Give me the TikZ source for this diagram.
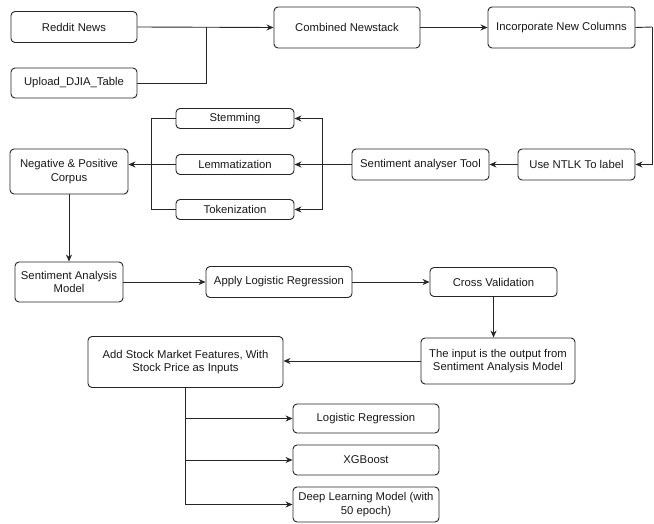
\documentclass[tikz,border=0pt]{standalone}
\usepackage{fontspec}
\setmainfont{Liberation Sans}
\usetikzlibrary{arrows.meta}
\usetikzlibrary{positioning}

\tikzset{
  box/.style={draw=black!85,line width=0.9pt,rounded corners=4pt,fill=white,
    align=center,inner sep=0pt,text=black!90,
    font=\fontsize{11.3}{13.5}\selectfont},
  arr/.style={line width=0.9pt,draw=black!85,-{Stealth[length=7pt,width=6pt]}},
  ln/.style={line width=0.9pt,draw=black!85}
}

\begin{document}
\begin{tikzpicture}[x=1pt,y=-1pt]
\useasboundingbox[fill=white] (0,0) rectangle (654,524);

% top row
\node[box,minimum width=126pt,minimum height=31pt] (reddit) at (74,27) {Reddit News};
\node[box,minimum width=126pt,minimum height=30pt] (upload) at (74,83) {Upload\_DJIA\_Table};
\node[box,minimum width=146pt,minimum height=41pt] (combo) at (347,27.5) {Combined Newstack};
\node[box,minimum width=147pt,minimum height=41pt] (incorp) at (561.5,27.5) {Incorporate New Columns};
\coordinate (jn) at (206,27);
\coordinate (rt) at (652,27);

% labelling and text processing
\node[box,minimum width=117pt,minimum height=31pt] (ntlk) at (576.5,164.5) {Use NTLK To label};
\node[box,minimum width=137pt,minimum height=31pt] (sat) at (420.5,164.5) {Sentiment analyser Tool};
\node[box,minimum width=118pt,minimum height=20pt] (stem) at (235,118.5) {Stemming};
\node[box,minimum width=118pt,minimum height=20pt] (lemma) at (235,164.5) {Lemmatization};
\node[box,minimum width=118pt,minimum height=20pt] (token) at (235,209.5) {Tokenization};
\node[box,minimum width=118pt,minimum height=45pt] (corpus) at (69,171.5) {Negative \& Positive\\Corpus};
\coordinate (rbus) at (322,164.5);
\coordinate (lbus) at (151,164.5);

% models
\node[box,minimum width=108pt,minimum height=40pt] (sam) at (69,282) {Sentiment Analysis\\Model};
\node[box,minimum width=146pt,minimum height=31pt] (apply) at (279,282) {Apply Logistic Regression};
\node[box,minimum width=127pt,minimum height=29pt] (cv) at (493.5,282) {Cross Validation};
\node[box,minimum width=154pt,minimum height=46pt] (input) at (498,361) {The input is the output from\\Sentiment Analysis Model};
\node[box,minimum width=195pt,minimum height=51pt] (add) at (185.5,362) {Add Stock Market Features, With\\Stock Price as Inputs};
\node[box,minimum width=146pt,minimum height=29pt] (lr) at (366,418.5) {Logistic Regression};
\node[box,minimum width=146pt,minimum height=30pt] (xgb) at (366,460) {XGBoost};
\node[box,minimum width=146pt,minimum height=35pt] (dl) at (366,504.5) {Deep Learning Model (with\\50 epoch)};

% connectors
\draw[ln] (upload.east) -| (jn);
\draw[arr] (reddit.east) -- (combo.west);
\draw[arr] (combo.east) -- (incorp.west);
\draw[ln] (incorp.east) -- (rt);
\draw[arr] (rt) |- (ntlk.east);
\draw[arr] (ntlk.west) -- (sat.east);
\draw[arr] (sat.west) -- (lemma.east);
\draw[arr] (rbus) |- (stem.east);
\draw[arr] (rbus) |- (token.east);
\draw[ln] (stem.west) -| (lbus);
\draw[ln] (token.west) -| (lbus);
\draw[arr] (lemma.west) -- (lemma.west -| corpus.east);
\draw[arr] (corpus.south) -- (sam.north);
\draw[arr] (sam.east) -- (apply.west);
\draw[arr] (apply.east) -- (cv.west);
\draw[arr] (cv.south) -- (cv.south |- input.north);
\draw[arr] (input.west) -- (add.east |- input.west);
\draw[arr] (add.south) |- (lr.west);
\draw[arr] (add.south) |- (xgb.west);
\draw[arr] (add.south) |- (dl.west);

\end{tikzpicture}
\end{document}
